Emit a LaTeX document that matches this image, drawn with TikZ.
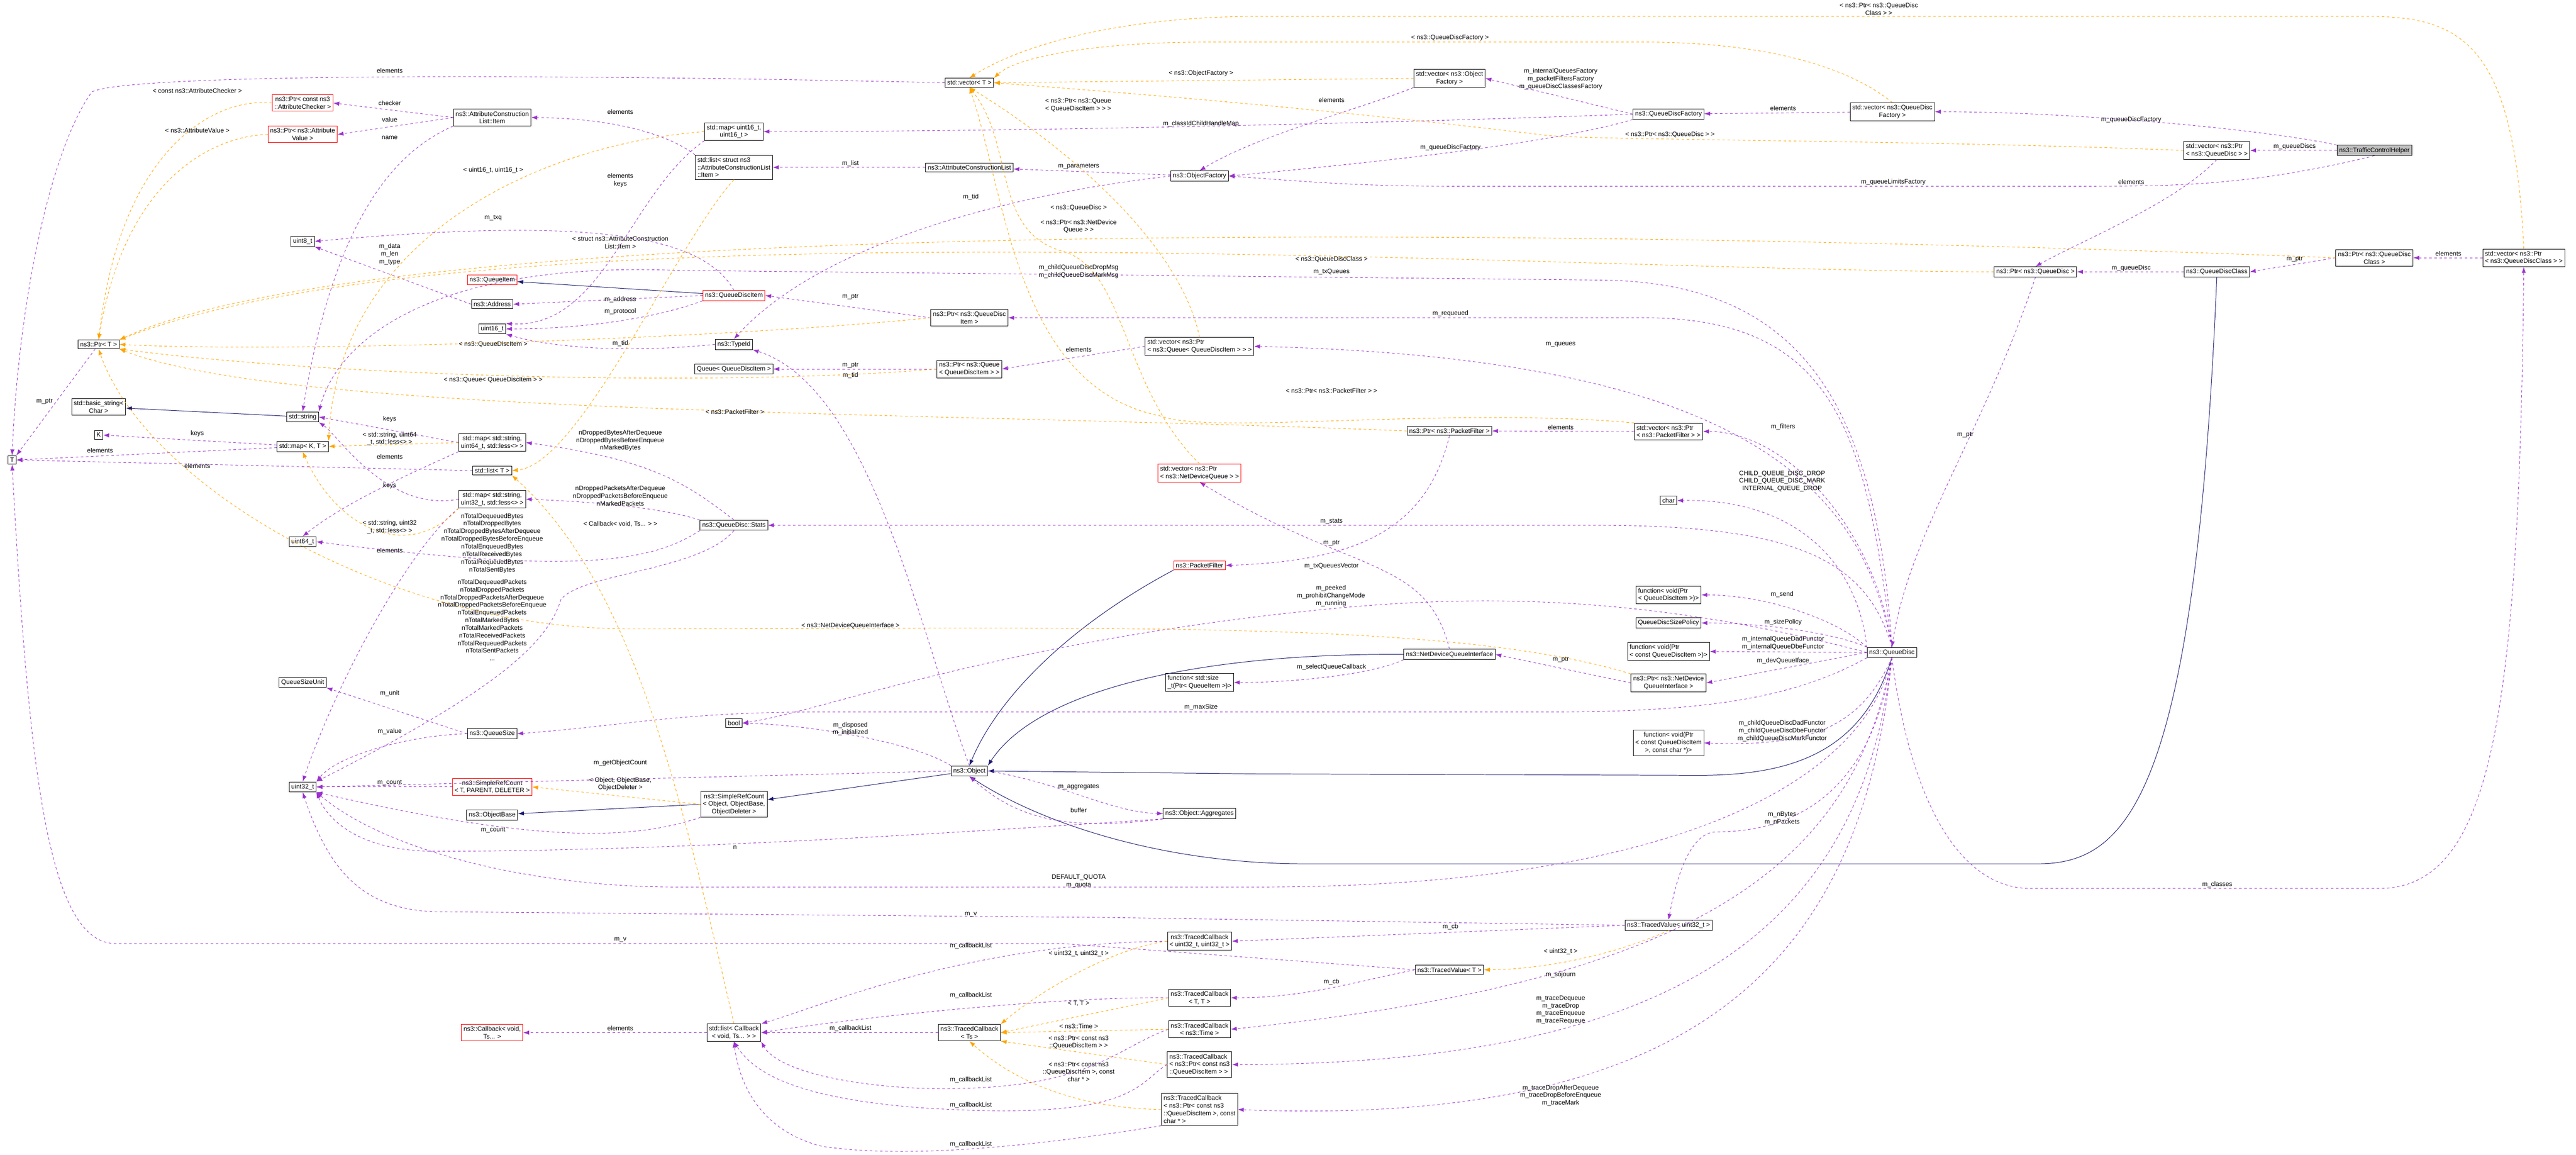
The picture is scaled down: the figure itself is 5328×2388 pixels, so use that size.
\documentclass[tikz,border=0pt]{standalone}
\usepackage{fontspec}
\setmainfont{Liberation Sans}
\usetikzlibrary{arrows.meta,positioning,calc}
\definecolor{usecol}{RGB}{154,50,205}
\definecolor{tmplcol}{RGB}{255,165,0}
\definecolor{inhcol}{RGB}{25,25,112}
\newcommand\dfont{\fontsize{7.5}{9}\selectfont}
\begin{document}
\begin{tikzpicture}[
    x=0.02cm, y=-0.02cm,
    cls/.style={draw, fill=white, font=\dfont, align=center, inner sep=2.5pt, line width=0.6pt},
    clsl/.style={cls, align=left},
    redcls/.style={cls, draw=red},
    redcl/.style={clsl, draw=red},
    main/.style={cls, fill=black!25},
    use/.style={draw=usecol, dashed, dash pattern=on 3pt off 3pt, line width=0.55pt, -{Latex[length=7pt,width=5pt]}},
    tmpl/.style={draw=tmplcol, dashed, dash pattern=on 3pt off 3pt, line width=0.55pt, -{Latex[length=7pt,width=5pt]}},
    inh/.style={draw=inhcol, line width=0.6pt, -{Latex[length=7pt,width=5pt]}},
    lbl/.style={font=\dfont, align=center, inner sep=1pt, text=black}
]
\useasboundingbox (0,0) rectangle (5328,2388);

% column 1
\node[cls] (T) at (25,951) {T};
\node[cls] (ptrT) at (204,712) {ns3::Ptr< T >};
\node[cls] (bstr) at (204,841) {std::basic\_string<\\Char >};
\node[cls] (K) at (204,899) {K};

% column 2
\node[redcls] (ptrChk) at (626,213) {ns3::Ptr< const ns3\\::AttributeChecker >};
\node[redcls] (ptrVal) at (626,278) {ns3::Ptr< ns3::Attribute\\Value >};
\node[cls] (u8) at (626,499) {uint8\_t};
\node[cls] (str) at (626,862) {std::string};
\node[cls] (mapKT) at (626,923) {std::map< K, T >};
\node[cls] (u64) at (626,1120) {uint64\_t};
\node[cls] (qsu) at (626,1411) {QueueSizeUnit};
\node[cls] (u32) at (626,1627) {uint32\_t};

% column 3
\node[cls] (acli) at (1018,243) {ns3::AttributeConstruction\\List::Item};
\node[redcls] (qitem) at (1018,579) {ns3::QueueItem};
\node[cls] (addr) at (1018,629) {ns3::Address};
\node[cls] (u16) at (1018,680) {uint16\_t};
\node[cls] (map64) at (1018,915) {std::map< std::string,\\uint64\_t, std::less<> >};
\node[cls] (listT) at (1018,973) {std::list< T >};
\node[cls] (map32) at (1018,1032) {std::map< std::string,\\uint32\_t, std::less<> >};
\node[cls] (qsize) at (1018,1517) {ns3::QueueSize};
\node[redcls] (src) at (1018,1627) {ns3::SimpleRefCount\\< T, PARENT, DELETER >};
\node[cls] (objbase) at (1018,1685) {ns3::ObjectBase};
\node[redcls] (cb) at (1018,2135) {ns3::Callback< void,\\Ts... >};

% column 4
\node[cls] (map16) at (1518,272) {std::map< uint16\_t,\\uint16\_t >};
\node[clsl] (listAcli) at (1518,346) {std::list< struct ns3\\::AttributeConstructionList\\::Item >};
\node[redcls] (qdi) at (1518,611) {ns3::QueueDiscItem};
\node[cls] (tid) at (1518,712) {ns3::TypeId};
\node[cls] (qQdi) at (1518,763) {Queue< QueueDiscItem >};
\node[cls] (stats) at (1518,1086) {ns3::QueueDisc::Stats};
\node[cls] (bool) at (1518,1495) {bool};
\node[cls] (srcObj) at (1518,1663) {ns3::SimpleRefCount\\< Object, ObjectBase,\\ObjectDeleter >};
\node[cls] (listCb) at (1518,2135) {std::list< Callback\\< void, Ts... > >};

% column 5
\node[cls] (vecT) at (2005,171) {std::vector< T >};
\node[cls] (acl) at (2005,346) {ns3::AttributeConstructionList};
\node[cls] (ptrQdi) at (2005,657) {ns3::Ptr< ns3::QueueDisc\\Item >};
\node[clsl] (ptrQ) at (2005,763) {ns3::Ptr< ns3::Queue\\< QueueDiscItem > >};
\node[cls] (obj) at (2005,1594) {ns3::Object};
\node[cls] (tcTs) at (2005,2135) {ns3::TracedCallback\\< Ts >};

% column 6
\node[cls] (of) at (2481,364) {ns3::ObjectFactory};
\node[clsl] (vecPtrQ) at (2481,716) {std::vector< ns3::Ptr\\< ns3::Queue< QueueDiscItem > > >};
\node[redcl] (vecNdq) at (2481,978) {std::vector< ns3::Ptr\\< ns3::NetDeviceQueue > >};
\node[redcls] (pf) at (2481,1169) {ns3::PacketFilter};
\node[clsl] (fnSize) at (2481,1411) {function< std::size\\\_t(Ptr< QueueItem >)>};
\node[cls] (agg) at (2481,1682) {ns3::Object::Aggregates};
\node[cls] (tcU32) at (2481,1946) {ns3::TracedCallback\\< uint32\_t, uint32\_t >};
\node[cls] (tcTT) at (2481,2063) {ns3::TracedCallback\\< T, T >};
\node[cls] (tcTime) at (2481,2128) {ns3::TracedCallback\\< ns3::Time >};
\node[clsl] (tcPtr) at (2481,2201) {ns3::TracedCallback\\< ns3::Ptr< const ns3\\::QueueDiscItem > >};
\node[clsl] (tcPtrC) at (2481,2294) {ns3::TracedCallback\\< ns3::Ptr< const ns3\\::QueueDiscItem >, const\\char * >};

% column 7
\node[cls] (vecOf) at (2998,162) {std::vector< ns3::Object\\Factory >};
\node[cls] (ptrPf) at (2998,891) {ns3::Ptr< ns3::PacketFilter >};
\node[cls] (ndqi) at (2998,1353) {ns3::NetDeviceQueueInterface};
\node[cls] (tvT) at (2998,2005) {ns3::TracedValue< T >};

% column 8
\node[cls] (qdf) at (3451,236) {ns3::QueueDiscFactory};
\node[clsl] (vecPf) at (3451,892) {std::vector< ns3::Ptr\\< ns3::PacketFilter > >};
\node[cls] (char) at (3451,1035) {char};
\node[clsl] (fnSend) at (3451,1230) {function< void(Ptr\\< QueueDiscItem >)>};
\node[cls] (qdsp) at (3451,1288) {QueueDiscSizePolicy};
\node[clsl] (fnConst) at (3451,1347) {function< void(Ptr\\< const QueueDiscItem >)>};
\node[cls] (ptrNdqi) at (3451,1412) {ns3::Ptr< ns3::NetDevice\\QueueInterface >};
\node[cls] (fnChar) at (3451,1536) {function< void(Ptr\\< const QueueDiscItem\\>, const char *)>};
\node[cls] (tvU32) at (3451,1913) {ns3::TracedValue< uint32\_t >};

% right part
\node[cls] (vecQdf) at (3914,231) {std::vector< ns3::QueueDisc\\Factory >};
\node[cls] (qd) at (3913,1349) {ns3::QueueDisc};
\node[clsl] (vecPtrQd) at (4585,311) {std::vector< ns3::Ptr\\< ns3::QueueDisc > >};
\node[main] (tch) at (4911,311) {ns3::TrafficControlHelper};
\node[cls] (ptrQd) at (4210,562) {ns3::Ptr< ns3::QueueDisc >};
\node[cls] (qdc) at (4585,562) {ns3::QueueDiscClass};
\node[cls] (ptrQdc) at (4911,533) {ns3::Ptr< ns3::QueueDisc\\Class >};
\node[clsl] (vecPtrQdc) at (5220,533) {std::vector< ns3::Ptr\\< ns3::QueueDiscClass > >};

% inheritance
\draw[inh] (str) -- (bstr);
\draw[inh] (qdi) -- (qitem);
\draw[inh] (obj) -- (srcObj);
\draw[inh] (srcObj.west) -- (objbase);
\draw[inh] (pf.south west) .. controls (2200,1300) and (2060,1450) .. (obj.north);
\draw[inh] (ndqi.west) .. controls (2500,1350) and (2150,1420) .. (obj.north east);
\draw[inh] (qd.south) .. controls (3850,1560) and (3700,1605) .. (3500,1603) -- (2600,1600) -- (obj.east);
\draw[inh] (qdc.south) .. controls (4540,1650) and (4400,1786) .. (4214,1786) -- (2700,1786) .. controls (2400,1786) and (2150,1700) .. (obj.south);

% usage
\draw[use] (vecT.west) .. controls (1000,150) and (260,155) .. (190,190) .. controls (110,300) and (40,600) .. (T.north) node[lbl] at (806,146) {elements};
\draw[use] (acli.west) -- (ptrChk.east) node[lbl] at (806,213) {checker};
\draw[use] (acli.west) -- (ptrVal.east) node[lbl] at (806,247) {value};
\draw[use] (acli.south west) .. controls (850,300) and (700,400) .. (str.north) node[lbl] at (806,285) {name};
\draw[use] (listAcli.north west) .. controls (1400,290) and (1300,245) .. (acli.east) node[lbl] at (1283,231) {elements};
\draw[use] (acl) -- (listAcli) node[lbl] at (1759,338) {m\_list};
\draw[use] (of) -- (acl) node[lbl] at (2231,344) {m\_parameters};
\draw[use] (of.west) .. controls (2100,400) and (1700,500) .. (tid.north) node[lbl] at (2008,407) {m\_tid};
\draw[use] (ptrT) -- (T.north east) node[lbl] at (92,830) {m\_ptr};
\draw[use] (mapKT) -- (K) node[lbl] at (408,896) {keys};
\draw[use] (mapKT) -- (T.east) node[lbl] at (207,931) {elements};
\draw[use] (map64.west) -- (str.east) node[lbl] at (806,867) {keys};
\draw[use] (map64.south west) .. controls (800,1000) and (700,1050) .. (u64.north) node[lbl] at (806,944) {elements};
\draw[use] (map32.west) .. controls (800,1060) and (700,900) .. (str.south east) node[lbl] at (806,1004) {keys};
\draw[use] (map32.south west) .. controls (850,1130) and (700,1400) .. (u32.north) node[lbl] at (806,1138) {elements};
\draw[use] (listT.west) -- (T.east) node[lbl] at (408,963) {elements};
\draw[use] (addr.west) -- (u8.south east) node[lbl] at (806,526) {m\_data\\m\_len\\m\_type};
\draw[use] (qdi.west) -- (addr.east) node[lbl] at (1283,619) {m\_address};
\draw[use] (qdi.south west) .. controls (1350,660) and (1200,680) .. (u16.east) node[lbl] at (1283,644) {m\_protocol};
\draw[use] (qdi.north) .. controls (1450,480) and (1200,450) .. (u8.east) node[lbl] at (1020,451) {m\_txq};
\draw[use] (tid.west) .. controls (1300,730) and (1150,720) .. (u16.south east) node[lbl] at (1283,710) {m\_tid};
\draw[use] (map16.south west) .. controls (1300,400) and (1250,680) .. (u16.north east) node[lbl] at (1283,373) {elements\\keys};
\draw[use] (ptrQdi.west) -- (qdi.east) node[lbl] at (1759,614) {m\_ptr};
\draw[use] (ptrQ.west) -- (qQdi.east) node[lbl] at (1759,755) {m\_ptr};
\draw[use] (vecPtrQ.west) -- (ptrQ.east) node[lbl] at (2231,723) {elements};
\draw[use] (vecOf.south west) .. controls (2800,230) and (2600,280) .. (of.north) node[lbl] at (2754,207) {elements};
\draw[use] (qdf.west) -- (vecOf.east) node[lbl] at (3228,163) {m\_internalQueuesFactory\\m\_packetFiltersFactory\\m\_queueDiscClassesFactory};
\draw[use] (qdf.west) .. controls (3000,250) and (2200,272) .. (map16.east) node[lbl] at (2484,256) {m\_classIdChildHandleMap};
\draw[use] (qdf.south west) .. controls (3200,300) and (2800,340) .. (of.east) node[lbl] at (3000,305) {m\_queueDiscFactory};
\draw[use] (vecQdf) -- (qdf) node[lbl] at (3688,224) {elements};
\draw[use] (tch.north west) .. controls (4700,270) and (4300,231) .. (vecQdf.east) node[lbl] at (4408,247) {m\_queueDiscFactory};
\draw[use] (tch) -- (vecPtrQd) node[lbl] at (4746,303) {m\_queueDiscs};
\draw[use] (tch.south) .. controls (4650,385) and (4500,385) .. (4300,385) -- (3000,385) .. controls (2800,385) and (2700,375) .. (of.east) node[lbl] at (3916,376) {m\_queueLimitsFactory};
\draw[use] (vecPtrQd.south) .. controls (4500,420) and (4300,500) .. (ptrQd.north) node[lbl] at (4408,376) {elements};
\draw[use] (qdc) -- (ptrQd) node[lbl] at (4408,554) {m\_queueDisc};
\draw[use] (ptrQdc.west) -- (qdc.east) node[lbl] at (4746,536) {m\_ptr};
\draw[use] (vecPtrQdc) -- (ptrQdc) node[lbl] at (5064,524) {elements};
\draw[use] (qd.south) .. controls (3950,1650) and (4050,1837) .. (4200,1837) -- (4919,1837) .. controls (5150,1837) and (5210,1500) .. (vecPtrQdc.south) node[lbl] at (4586,1829) {m\_classes};
\draw[use] (ptrQd.south) .. controls (4100,900) and (3950,1100) .. (qd.north) node[lbl] at (4065,899) {m\_ptr};
\draw[use] (qd.north) .. controls (3860,900) and (3800,657) .. (3400,657) -- (ptrQdi.east) node[lbl] at (3000,648) {m\_requeued};
\draw[use] (qd.north) .. controls (3850,1000) and (3600,740) .. (vecPtrQ.east) node[lbl] at (3228,712) {m\_queues};
\draw[use] (qd.north) .. controls (3880,1100) and (3700,892) .. (vecPf.east) node[lbl] at (3688,883) {m\_filters};
\draw[use] (qd.north west) .. controls (3840,1150) and (3700,1030) .. (char.east) node[lbl] at (3686,995) {CHILD\_QUEUE\_DISC\_DROP\\CHILD\_QUEUE\_DISC\_MARK\\INTERNAL\_QUEUE\_DROP};
\draw[use] (qd.north) .. controls (3860,1150) and (3700,1086) .. (3300,1086) -- (stats.east) node[lbl] at (2754,1078) {m\_stats};
\draw[use] (qd.north) .. controls (3880,800) and (3700,579) .. (3300,579) -- (1400,559) .. controls (900,540) and (700,700) .. (str.north east) node[lbl] at (2754,562) {m\_txQueues} node[lbl] at (2231,561) {m\_childQueueDiscDropMsg\\m\_childQueueDiscMarkMsg};
\draw[use] (qd.north west) .. controls (3800,1280) and (3650,1230) .. (fnSend.east) node[lbl] at (3686,1229) {m\_send};
\draw[use] (qd.north west) .. controls (3800,1310) and (3650,1288) .. (qdsp.east) node[lbl] at (3688,1287) {m\_sizePolicy};
\draw[use] (qd.west) -- (fnConst.east) node[lbl] at (3688,1330) {m\_internalQueueDadFunctor\\m\_internalQueueDbeFunctor};
\draw[use] (qd.west) -- (ptrNdqi.east) node[lbl] at (3688,1366) {m\_devQueueIface};
\draw[use] (qd.west) .. controls (3300,1200) and (2900,1240) .. (2600,1275) .. controls (2000,1350) and (1700,1470) .. (bool.east) node[lbl] at (2753,1232) {m\_peeked\\m\_prohibitChangeMode\\m\_running};
\draw[use] (qd.south west) .. controls (3700,1450) and (3500,1472) .. (3200,1472) -- (1700,1472) .. controls (1400,1472) and (1300,1500) .. (qsize.east) node[lbl] at (2484,1462) {m\_maxSize};
\draw[use] (qd.south) .. controls (3850,1500) and (3750,1545) .. (fnChar.east) node[lbl] at (3686,1511) {m\_childQueueDiscDadFunctor\\m\_childQueueDiscDbeFunctor\\m\_childQueueDiscMarkFunctor};
\draw[use] (qd.south) .. controls (3860,1600) and (3500,1834) .. (2600,1834) -- (1400,1834) .. controls (1100,1834) and (800,1760) .. (u32.south east) node[lbl] at (2231,1822) {DEFAULT\_QUOTA\\m\_quota};
\draw[use] (qd.south) .. controls (3870,1650) and (3700,1720) .. (3550,1720) .. controls (3500,1720) and (3470,1800) .. (tvU32.north) node[lbl] at (3686,1692) {m\_nBytes\\m\_nPackets};
\draw[use] (qd.south) .. controls (3830,1800) and (3500,2030) .. (tcTime.east) node[lbl] at (3228,2015) {m\_sojourn};
\draw[use] (qd.south) .. controls (3850,1900) and (3500,2200) .. (tcPtr.east) node[lbl] at (3228,2088) {m\_traceDequeue\\m\_traceDrop\\m\_traceEnqueue\\m\_traceRequeue};
\draw[use] (qd.south) .. controls (3850,2000) and (3500,2330) .. (tcPtrC.east) node[lbl] at (3228,2265) {m\_traceDropAfterDequeue\\m\_traceDropBeforeEnqueue\\m\_traceMark};
\draw[use] (ptrNdqi.west) -- (ndqi.east) node[lbl] at (3228,1364) {m\_ptr};
\draw[use] (ndqi.south west) .. controls (2850,1390) and (2700,1411) .. (fnSize.east) node[lbl] at (2754,1379) {m\_selectQueueCallback};
\draw[use] (ndqi.north) .. controls (2950,1150) and (2800,1190) .. (vecNdq.south) node[lbl] at (2754,1170) {m\_txQueuesVector};
\draw[use] (vecPf.west) -- (ptrPf.east) node[lbl] at (3228,883) {elements};
\draw[use] (ptrPf.south) .. controls (2950,1100) and (2800,1160) .. (pf.east) node[lbl] at (2754,1123) {m\_ptr};
\draw[use] (obj.north) .. controls (1900,1300) and (1800,800) .. (tid.south east) node[lbl] at (1759,776) {m\_tid};
\draw[use] (obj.north west) .. controls (1900,1540) and (1700,1500) .. (bool.east) node[lbl] at (1759,1507) {m\_disposed\\m\_initialized};
\draw[use] (obj.west) -- (u32.east) node[lbl] at (1283,1577) {m\_getObjectCount};
\draw[use] (obj.east) .. controls (2200,1620) and (2300,1680) .. (agg.west) node[lbl] at (2231,1627) {m\_aggregates};
\draw[use] (agg.south west) .. controls (2200,1720) and (2100,1690) .. (obj.south) node[lbl] at (2231,1675) {buffer};
\draw[use] (agg.south west) .. controls (2000,1720) and (1400,1760) .. (900,1760) .. controls (750,1760) and (680,1700) .. (u32.south east) node[lbl] at (1520,1752) {n};
\draw[use] (srcObj.south west) .. controls (1300,1740) and (1100,1740) .. (u32.south east) node[lbl] at (1020,1716) {m\_count};
\draw[use] (src) -- (u32) node[lbl] at (806,1618) {m\_count};
\draw[use] (qsize.west) -- (qsu.south east) node[lbl] at (806,1434) {m\_unit};
\draw[use] (qsize.west) .. controls (850,1520) and (700,1560) .. (u32.north east) node[lbl] at (806,1512) {m\_value};
\draw[use] (stats.north) .. controls (1420,1000) and (1350,950) .. (map64.east) node[lbl] at (1283,911) {nDroppedBytesAfterDequeue\\nDroppedBytesBeforeEnqueue\\nMarkedBytes};
\draw[use] (stats.north west) .. controls (1400,1060) and (1300,1040) .. (map32.east) node[lbl] at (1283,1025) {nDroppedPacketsAfterDequeue\\nDroppedPacketsBeforeEnqueue\\nMarkedPackets};
\draw[use] (stats.south west) .. controls (1350,1160) and (1200,1190) .. (u64.east) node[lbl] at (1018,1123) {nTotalDequeuedBytes\\nTotalDroppedBytes\\nTotalDroppedBytesAfterDequeue\\nTotalDroppedBytesBeforeEnqueue\\nTotalEnqueuedBytes\\nTotalReceivedBytes\\nTotalRequeuedBytes\\nTotalSentBytes};
\draw[use] (stats.south) .. controls (1450,1180) and (1200,1185) .. (1160,1240) .. controls (1130,1340) and (1000,1440) .. (u32.north east) node[lbl] at (1018,1282) {nTotalDequeuedPackets\\nTotalDroppedPackets\\nTotalDroppedPacketsAfterDequeue\\nTotalDroppedPacketsBeforeEnqueue\\nTotalEnqueuedPackets\\nTotalMarkedBytes\\nTotalMarkedPackets\\nTotalReceivedPackets\\nTotalRequeuedPackets\\nTotalSentPackets\\...};
\draw[use] (tvU32.west) -- (2300,1897) -- (900,1885) .. controls (750,1880) and (680,1800) .. (u32.south) node[lbl] at (2008,1891) {m\_v};
\draw[use] (tvU32.west) -- (tcU32.east) node[lbl] at (3000,1916) {m\_cb};
\draw[use] (tvT.west) -- (2200,1951) -- (240,1951) .. controls (100,1951) and (60,1600) .. (T.south) node[lbl] at (1283,1943) {m\_v};
\draw[use] (tvT.west) .. controls (2800,2030) and (2700,2063) .. (tcTT.east) node[lbl] at (2754,2030) {m\_cb};
\draw[use] (tcU32.west) .. controls (2000,1950) and (1700,2080) .. (listCb.north east) node[lbl] at (2008,1956) {m\_callbackList};
\draw[use] (tcTT.west) .. controls (2200,2060) and (1800,2100) .. (listCb.east) node[lbl] at (2008,2058) {m\_callbackList};
\draw[use] (tcTs) -- (listCb) node[lbl] at (1759,2126) {m\_callbackList};
\draw[use] (tcTime.west) .. controls (2300,2170) and (2250,2260) .. (1900,2250) .. controls (1700,2240) and (1600,2200) .. (listCb.south east) node[lbl] at (2008,2233) {m\_callbackList};
\draw[use] (tcPtr.west) .. controls (2350,2240) and (2350,2320) .. (1900,2290) .. controls (1650,2270) and (1560,2220) .. (listCb.south) node[lbl] at (2008,2285) {m\_callbackList};
\draw[use] (tcPtrC.south west) .. controls (2200,2360) and (1900,2400) .. (1700,2370) .. controls (1580,2340) and (1530,2250) .. (listCb.south) node[lbl] at (2008,2366) {m\_callbackList};
\draw[use] (listCb) -- (cb) node[lbl] at (1283,2126) {elements};

% templates
\draw[tmpl] (ptrChk.west) .. controls (450,200) and (250,300) .. (ptrT.north) node[lbl] at (408,188) {< const ns3::AttributeChecker >};
\draw[tmpl] (ptrVal.west) .. controls (450,280) and (260,360) .. (ptrT.north) node[lbl] at (408,270) {< ns3::AttributeValue >};
\draw[tmpl] (ptrQdi.west) .. controls (1500,700) and (600,730) .. (ptrT.east) node[lbl] at (1020,712) {< ns3::QueueDiscItem >};
\draw[tmpl] (ptrQ.west) .. controls (1500,800) and (700,780) .. (ptrT.south east) node[lbl] at (1020,786) {< ns3::Queue< QueueDiscItem > >};
\draw[tmpl] (ptrPf.west) .. controls (1900,850) and (600,860) .. (ptrT.south east) node[lbl] at (1520,851) {< ns3::PacketFilter >};
\draw[tmpl] (ptrQd.west) .. controls (3200,560) and (1000,410) .. (ptrT.north east) node[lbl] at (2231,430) {< ns3::QueueDisc >};
\draw[tmpl] (ptrQdc.west) .. controls (4000,500) and (900,400) .. (ptrT.north east) node[lbl] at (2754,536) {< ns3::QueueDiscClass >};
\draw[tmpl] (ptrNdqi.north west) .. controls (3000,1280) and (2300,1300) .. (1300,1300) .. controls (800,1300) and (300,1000) .. (ptrT.south) node[lbl] at (1759,1294) {< ns3::NetDeviceQueueInterface >};
\draw[tmpl] (map16.west) .. controls (1100,300) and (700,500) .. (mapKT.north east) node[lbl] at (1020,352) {< uint16\_t, uint16\_t >};
\draw[tmpl] (map64.west) -- (mapKT.east) node[lbl] at (806,907) {< std::string, uint64\\\_t, std::less<> >};
\draw[tmpl] (map32.south west) .. controls (850,1160) and (700,1100) .. (mapKT.south) node[lbl] at (806,1090) {< std::string, uint32\\\_t, std::less<> >};
\draw[tmpl] (listAcli.south) .. controls (1400,500) and (1200,960) .. (listT.east) node[lbl] at (1283,501) {< struct ns3::AttributeConstruction\\List::Item >};
\draw[tmpl] (listCb.north) .. controls (1400,1600) and (1300,1200) .. (listT.south east) node[lbl] at (1283,1084) {< Callback< void, Ts... > >};
\draw[tmpl] (srcObj.west) -- (src.east) node[lbl] at (1283,1621) {< Object, ObjectBase,\\ObjectDeleter >};
\draw[tmpl] (tvU32.south) .. controls (3300,1990) and (3150,2005) .. (tvT.east) node[lbl] at (3228,1967) {< uint32\_t >};
\draw[tmpl] (tcU32.west) .. controls (2300,1960) and (2150,2050) .. (tcTs.north east) node[lbl] at (2231,1972) {< uint32\_t, uint32\_t >};
\draw[tmpl] (tcTT.west) -- (tcTs.east) node[lbl] at (2231,2075) {< T, T >};
\draw[tmpl] (tcTime.west) -- (tcTs.east) node[lbl] at (2231,2122) {< ns3::Time >};
\draw[tmpl] (tcPtr.west) -- (tcTs.south east) node[lbl] at (2231,2155) {< ns3::Ptr< const ns3\\::QueueDiscItem > >};
\draw[tmpl] (tcPtrC.west) .. controls (2200,2290) and (2080,2220) .. (tcTs.south) node[lbl] at (2231,2216) {< ns3::Ptr< const ns3\\::QueueDiscItem >, const\\char * >};
\draw[tmpl] (vecPtrQdc.north) .. controls (5200,100) and (5100,34) .. (4900,34) -- (2600,34) .. controls (2300,34) and (2100,100) .. (vecT.north) node[lbl] at (3886,19) {< ns3::Ptr< ns3::QueueDisc\\Class > >};
\draw[tmpl] (vecQdf.north) .. controls (3800,120) and (3600,87) .. (3400,87) -- (2500,87) .. controls (2250,87) and (2100,120) .. (vecT.north east) node[lbl] at (2999,78) {< ns3::QueueDiscFactory >};
\draw[tmpl] (vecOf.west) -- (vecT.east) node[lbl] at (2484,152) {< ns3::ObjectFactory >};
\draw[tmpl] (vecPtrQd.west) .. controls (4000,290) and (3300,290) .. (3200,280) .. controls (2700,220) and (2300,190) .. (vecT.east) node[lbl] at (3454,278) {< ns3::Ptr< ns3::QueueDisc > >};
\draw[tmpl] (vecPtrQ.north) .. controls (2440,500) and (2200,300) .. (vecT.south) node[lbl] at (2230,217) {< ns3::Ptr< ns3::Queue\\< QueueDiscItem > > >};
\draw[tmpl] (vecNdq.north) .. controls (2320,800) and (2330,560) .. (2200,520) .. controls (2050,480) and (2100,300) .. (vecT.south) node[lbl] at (2231,468) {< ns3::Ptr< ns3::NetDevice\\Queue > >};
\draw[tmpl] (vecPf.north west) .. controls (3000,840) and (2500,900) .. (2400,860) .. controls (2100,800) and (2080,400) .. (vecT.south) node[lbl] at (2754,808) {< ns3::Ptr< ns3::PacketFilter > >};
\end{tikzpicture}
\end{document}
